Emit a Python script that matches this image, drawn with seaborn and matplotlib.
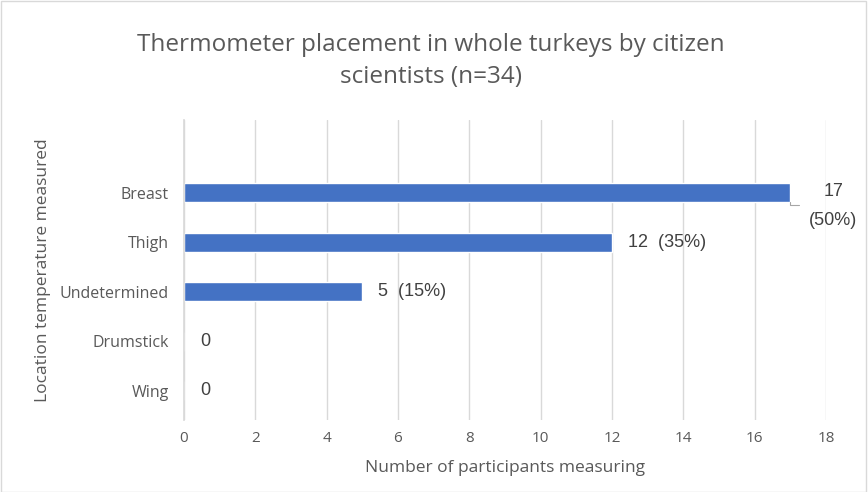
import matplotlib
matplotlib.use("Agg")
import matplotlib.pyplot as plt
import seaborn as sns
import pandas as pd

categories = ["Breast", "Thigh", "Undetermined", "Drumstick", "Wing"]
counts = [17, 12, 5, 0, 0]
labels = ["17\n(50%)", "12  (35%)", "5  (15%)", "0", "0"]
xticks = [0, 2, 4, 6, 8, 10, 12, 14, 16, 18]

sns.set_theme(style="white")
plt.rcParams['font.family'] = ['Open Sans', 'DejaVu Sans']

df = pd.DataFrame({"cat": categories, "n": counts})

fig = plt.figure(figsize=(8.68, 4.92), dpi=100)
ax = fig.add_axes([184/868, 1-420/492, (826-184)/868, 300/492])
sns.barplot(data=df, x="n", y="cat", order=categories, color="#4472C4",
            width=0.38, saturation=1, ax=ax)
ax.set_xlim(0, 18)
ax.set_ylim(4.59, -1.47)
ax.set_xticks(xticks)
ax.set_xticklabels([str(t) for t in xticks], fontsize=11, color="#595959")
ax.tick_params(axis='y', labelsize=11.5, labelcolor="#595959", length=0, pad=11)
ax.tick_params(axis='x', length=0, pad=8)
ax.grid(axis='x', color="#D9D9D9", linewidth=1)
ax.set_axisbelow(True)
for s in ["top", "right", "bottom"]:
    ax.spines[s].set_visible(False)
ax.spines["left"].set_color("#D9D9D9")
ax.set_xlabel("Number of participants measuring", fontsize=12.5, color="#595959", labelpad=10)
ax.set_ylabel("Location temperature measured", fontsize=12.5, color="#595959")
ax.yaxis.set_label_coords(-0.207, 0.5)

for i, (v, lab) in enumerate(zip(counts, labels)):
    if i == 0:
        ax.text(v + 1.2, i + 0.27, lab, ha="center", va="center", fontsize=13,
                family="Liberation Sans", color="#404040", linespacing=1.9)
        ax.plot([v, v, v + 0.25], [i + 0.19, i + 0.24, i + 0.24], color="#A6A6A6", lw=0.8, clip_on=False)
    else:
        ax.text(v + 0.45, i, lab, ha="left", va="center", fontsize=13,
                family="Liberation Sans", color="#404040")

fig.text(431/868, 1-61/492, "Thermometer placement in whole turkeys by citizen\nscientists (n=34)",
         ha="center", va="center", fontsize=17.5, color="#595959", linespacing=1.4)

fig.patches.append(plt.Rectangle((0.001, 0.001), 0.997, 0.997, transform=fig.transFigure,
                                 fill=False, edgecolor="#D9D9D9", lw=1))
fig.savefig("out.png", dpi=100)
